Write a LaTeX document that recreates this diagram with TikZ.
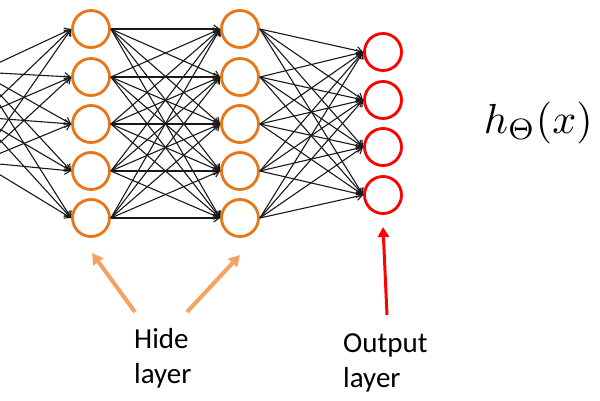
\documentclass[tikz,border=0pt]{standalone}
\usepackage{fontspec}
\newfontfamily\labelfont{Carlito}
\usetikzlibrary{arrows.meta}
\definecolor{nodeorange}{RGB}{232,118,22}
\definecolor{lightorange}{RGB}{244,162,97}
\definecolor{outred}{RGB}{255,0,0}
\tikzset{
  neuron/.style={circle, draw=nodeorange, line width=2.8pt, minimum size=37pt, inner sep=0pt, fill=white},
  outneuron/.style={neuron, draw=outred},
  edge/.style={draw=black!90, line width=1.1pt, -{Straight Barb[length=5.5pt,width=8pt]}},
  pointer/.style={draw=lightorange, line width=4pt, -{Triangle[length=11pt,width=12pt]}},
  redpointer/.style={draw=outred, line width=3pt, -{Triangle[length=10pt,width=11pt]}},
  caption/.style={font=\labelfont\fontsize{29}{35}\selectfont, inner sep=0pt, align=left, text=black}
}
\begin{document}
\begin{tikzpicture}[x=1pt,y=-1pt]
\useasboundingbox (0,0) rectangle (600,400);
\clip (0,0) rectangle (600,400);
% off-canvas input layer (only the connectors show)
\foreach \i/\y in {1/72,2/117,3/162} \coordinate (in\i) at (-21,\y);
% hidden layers
\foreach \i/\y in {1/29,2/77,3/124,4/171,5/218} {
  \node[neuron] (ha\i) at (91,\y) {};
  \node[neuron] (hb\i) at (240,\y) {};
}
% output layer
\foreach \i/\y in {1/52,2/100,3/147,4/195} \node[outneuron] (o\i) at (383,\y) {};
% connectors
\foreach \i in {1,2,3} \foreach \j in {1,...,5} \draw[edge] (in\i) -- (ha\j.west);
\foreach \i in {1,...,5} \foreach \j in {1,...,5} \draw[edge] (ha\i.east) -- (hb\j.west);
\foreach \i in {1,...,5} \foreach \j in {1,...,4} \draw[edge] (hb\i.east) -- (o\j.west);
% labels (base anchor = baseline of the last line)
\node[caption, anchor=base west] (hide) at (134,383) {Hide\\layer};
\node[caption, anchor=base west] (outlab) at (343,387) {Output\\layer};
\node[scale=4.2, anchor=base west, inner sep=0pt] (hx) at (483,133) {$h_\Theta(x)$};
% pointers
\coordinate (p1tail) at (135,312);
\coordinate (p1tip) at (92,253);
\coordinate (p2tail) at (187,312);
\coordinate (p2tip) at (240,255);
\coordinate (p3tail) at (387,315);
\coordinate (p3tip) at (383,227);
\draw[pointer] (p1tail) -- (p1tip);
\draw[pointer] (p2tail) -- (p2tip);
\draw[redpointer] (p3tail) -- (p3tip);
\end{tikzpicture}
\end{document}
